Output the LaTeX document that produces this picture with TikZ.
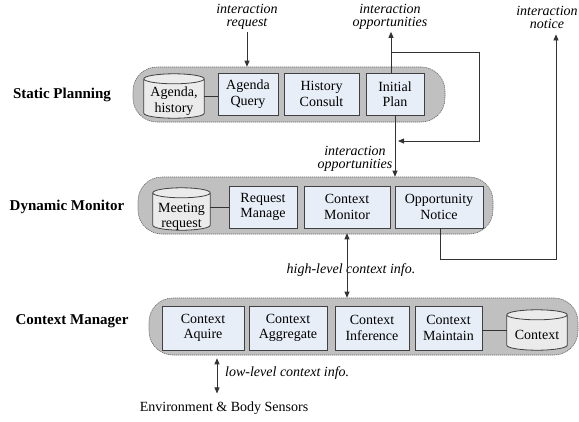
\documentclass[tikz,border=0pt]{standalone}
\usepackage{fontspec}
\setmainfont{Liberation Serif}
\usetikzlibrary{arrows.meta,calc}

\definecolor{lanegray}{HTML}{C0C0C0}
\definecolor{modfill}{HTML}{E8EEF8}
\definecolor{dbfill}{HTML}{EBEBEB}

\tikzset{
  lane/.style={draw=black!60, dash pattern=on 1.2pt off 0.8pt, fill=lanegray,
    rounded corners=24pt, line width=0.6pt, inner sep=0pt},
  module/.style={draw=black!75, fill=modfill, line width=0.9pt, align=center,
    inner sep=0pt, minimum height=42pt, font=\fontsize{14}{15.5}\selectfont},
  dbbox/.style={inner sep=0pt},
  dbtext/.style={align=center, inner sep=0pt, font=\fontsize{14}{15.5}\selectfont},
  dbshape/.style={draw=black!75, fill=dbfill, line width=0.8pt},
  layer/.style={inner sep=0pt, font=\fontsize{15}{17}\selectfont\bfseries},
  note/.style={inner sep=0pt, align=center, font=\fontsize{14}{13}\selectfont\itshape},
  plain/.style={inner sep=0pt, font=\fontsize{14}{15}\selectfont},
  link/.style={draw=black!80, line width=0.8pt},
  flow/.style={link, -{Triangle[length=6pt,width=5pt]}},
  dflow/.style={link, {Triangle[length=6pt,width=5pt]}-{Triangle[length=6pt,width=5pt]}},
}

% database cylinder drawn inside the box of a named node
\newcommand\dbcyl[1]{%
  \draw[dbshape] let \p1=(#1.north west), \p2=(#1.south east), \n1={(\x2-\x1)/2} in
    (\x1,{\y1-5pt}) -- (\x1,{\y2+5pt})
    arc[start angle=180, end angle=360, x radius=\n1, y radius=5pt]
    -- (\x2,{\y1-5pt})
    arc[start angle=0, end angle=180, x radius=\n1, y radius=5pt] -- cycle
    (\x1,{\y1-5pt}) arc[start angle=180, end angle=360, x radius=\n1, y radius=5pt];}

\begin{document}
\begin{tikzpicture}[x=1pt, y=-1pt]
\useasboundingbox (0,0) rectangle (579,421);

% layer containers
\node[lane, minimum width=312pt, minimum height=55pt] (sp)  at (289,94.5) {};
\node[lane, minimum width=355pt, minimum height=57pt] (dm)  at (315.5,205.5) {};
\node[lane, minimum width=429pt, minimum height=57pt] (cmg) at (363.5,326.5) {};

% layer titles
\node[layer] (lySP) at (62,95)  {Static Planning};
\node[layer] (lyDM) at (67,207) {Dynamic Monitor};
\node[layer] (lyCM) at (72,321) {Context Manager};

% static planning
\node[dbbox, minimum width=60pt, minimum height=44pt] (dbA) at (174,96) {};
\dbcyl{dbA}
\node[dbtext] (dbAt) at (174,101) {Agenda,\\history};
\node[module, minimum width=60pt] (aq) at (248,94)   {Agenda\\Query};
\node[module, minimum width=75pt] (hc) at (321.5,94) {History\\Consult};
\node[module, minimum width=58pt] (ip) at (395,94)   {Initial\\Plan};

% dynamic monitor
\node[dbbox, minimum width=57pt, minimum height=42pt] (dbM) at (181.5,209) {};
\dbcyl{dbM}
\node[dbtext] (dbMt) at (181.5,217) {Meeting\\request};
\node[module, minimum width=68pt] (rm)   at (263,207) {Request\\Manage};
\node[module, minimum width=86pt] (cmon) at (347,207) {Context\\Monitor};
\node[module, minimum width=88pt] (on)   at (439,207) {Opportunity\\Notice};

% context manager
\node[module, minimum width=82pt, minimum height=44pt] (cacq) at (203,328)   {Context\\Aquire};
\node[module, minimum width=78pt, minimum height=44pt] (cagg) at (288,328)   {Context\\Aggregate};
\node[module, minimum width=74pt, minimum height=44pt] (cinf) at (372,328)   {Context\\Inference};
\node[module, minimum width=67pt, minimum height=44pt] (cmnt) at (448.5,328) {Context\\Maintain};
\node[dbbox, minimum width=60pt, minimum height=40pt] (dbC) at (537,330) {};
\dbcyl{dbC}
\node[dbtext] (dbCt) at (537,335) {Context};

% storage links
\draw[link] (dbA.east) -- (dbA.east -| aq.west);
\draw[link] (rm.west -| dbM.east) -- (rm.west);
\draw[link] (dbC.west) -- (dbC.west -| cmnt.east);

% external labels
\node[note] (lblReq)  at (247,17)  {interaction\\request};
\node[note] (lblOpp1) at (390,17)  {interaction\\opportunities};
\node[note] (lblNote) at (547,17)  {interaction\\notice};
\node[note] (lblOpp2) at (355,159) {interaction\\opportunities};
\node[note] (lblHigh) at (351,270) {high-level context info.};
\node[note, anchor=west] (lblLow) at (225,373) {low-level context info.};
\node[plain] (env) at (224,408) {Environment \& Body Sensors};

% request into the planner
\draw[flow] ([yshift=-2pt]lblReq.south) -- (lblReq.south |- sp.north);

% opportunities out of the initial plan, fed back to the monitor
\coordinate (upOpp) at ([xshift=-4pt]ip.north);
\coordinate (brA) at (391,52);
\coordinate (brB) at (479,141);
\draw[flow] (upOpp) -- ([yshift=-2pt]upOpp |- lblOpp1.south);
\draw[flow] (brA) -| (brB) -- ([xshift=3pt]ip.south |- brB);
\draw[flow] (ip.south) -- (ip.south |- dm.north);

% opportunity notice to the outside
\coordinate (ntc) at (556,259);
\draw[flow] ([xshift=1pt]on.south) |- (ntc) -- ([yshift=-6pt]ntc |- lblNote.south);

% context information exchange
\draw[dflow] ([yshift=1pt]dm.south -| cmon) -- (cmg.north -| cmon);
\coordinate (lowX) at (217,0);
\draw[dflow] ([yshift=-3pt]cmg.south -| lowX) -- ([yshift=8pt]env.north -| lowX);
\end{tikzpicture}
\end{document}
